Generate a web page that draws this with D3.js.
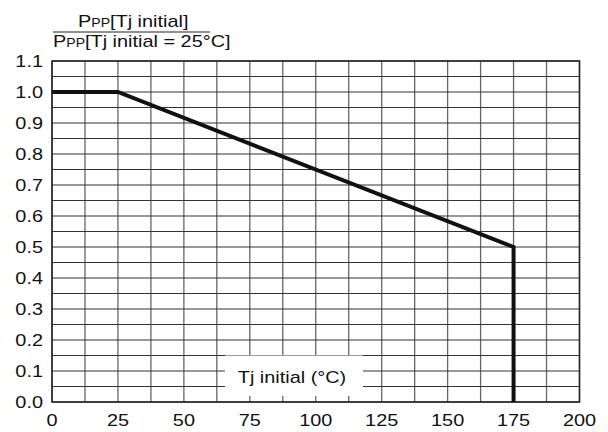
<!DOCTYPE html>
<html>
<head>
<meta charset="utf-8">
<script src="https://cdn.jsdelivr.net/npm/d3@7"></script>
<style>
  body { margin: 0; background: #fff; }
  text { font-family: "Liberation Sans", Arial, sans-serif; fill: #111; }
</style>
</head>
<body>
<div id="chart"></div>
<script>
// data
const tempValues = [0, 25, 175, 175];
const ratioValues = [1.0, 1.0, 0.5, 0.0];
const xTicks = [0, 25, 50, 75, 100, 125, 150, 175, 200];
const yTicks = [0.0, 0.1, 0.2, 0.3, 0.4, 0.5, 0.6, 0.7, 0.8, 0.9, 1.0, 1.1];

const W = 608, H = 432;
const margin = { top: 61, right: 28.5, bottom: 30, left: 52 };
const width = W - margin.left - margin.right;
const height = H - margin.top - margin.bottom;
const stretch = 1.17; // the original lettering is a bit wide

const svg = d3.select("#chart").append("svg")
    .attr("width", W).attr("height", H);
const g = svg.append("g").attr("transform", `translate(${margin.left},${margin.top})`);

const x = d3.scaleLinear().domain([0, 200]).range([0, width]);
const y = d3.scaleLinear().domain([0, 1.1]).range([height, 0]);

// grid: vertical every 12.5, horizontal every 0.05
const vGrid = d3.range(0, 200.1, 12.5);
const hGrid = d3.range(0, 1.1001, 0.05);

g.selectAll(".vgrid").data(vGrid).enter().append("line")
    .attr("x1", d => x(d)).attr("x2", d => x(d))
    .attr("y1", 0).attr("y2", height)
    .attr("stroke", "#666").attr("stroke-width", 1.3);

g.selectAll(".hgrid").data(hGrid).enter().append("line")
    .attr("x1", 0).attr("x2", width)
    .attr("y1", d => y(d)).attr("y2", d => y(d))
    .attr("stroke", "#333").attr("stroke-width", 1.1);

// white box behind the x axis title
g.append("rect")
    .attr("x", 173).attr("y", y(0.15))
    .attr("width", 138).attr("height", y(0) - y(0.15) - 6)
    .attr("fill", "#fff");

// frame
g.append("rect")
    .attr("x", 0).attr("y", 0).attr("width", width).attr("height", height)
    .attr("fill", "none").attr("stroke", "#222").attr("stroke-width", 1.5);

// tick labels
g.selectAll(".xl").data(xTicks).enter().append("text")
    .attr("transform", d => `translate(${x(d)},${height + 24}) scale(${stretch},1)`)
    .attr("text-anchor", "middle").attr("font-size", 17)
    .text(d => d);

g.selectAll(".yl").data(yTicks).enter().append("text")
    .attr("transform", d => `translate(-9,${y(d) + 6}) scale(${stretch},1)`)
    .attr("text-anchor", "end").attr("font-size", 17)
    .text(d => d.toFixed(1));

// x axis title
g.append("text")
    .attr("transform", `translate(240,${y(0) - 19}) scale(${stretch},1)`)
    .attr("text-anchor", "middle").attr("font-size", 17)
    .text("Tj initial (°C)");

// curve
const line = d3.line().x((d, i) => x(tempValues[i])).y((d, i) => y(ratioValues[i]));
g.append("path")
    .datum(tempValues)
    .attr("d", line)
    .attr("fill", "none").attr("stroke", "#111")
    .attr("stroke-width", 4).attr("stroke-linejoin", "miter");

// y axis title as a fraction
const t1 = svg.append("text")
    .attr("transform", `translate(78,27) scale(${stretch},1)`).attr("font-size", 17);
t1.append("tspan").text("P");
t1.append("tspan").attr("font-size", 12).text("PP");
t1.append("tspan").text("[Tj initial]");

svg.append("line")
    .attr("x1", 53).attr("x2", 210).attr("y1", 32).attr("y2", 32)
    .attr("stroke", "#222").attr("stroke-width", 1.2);

const t2 = svg.append("text")
    .attr("transform", `translate(53,47) scale(${stretch},1)`).attr("font-size", 17);
t2.append("tspan").text("P");
t2.append("tspan").attr("font-size", 12).text("PP");
t2.append("tspan").text("[Tj initial = 25°C]");
</script>
</body>
</html>
